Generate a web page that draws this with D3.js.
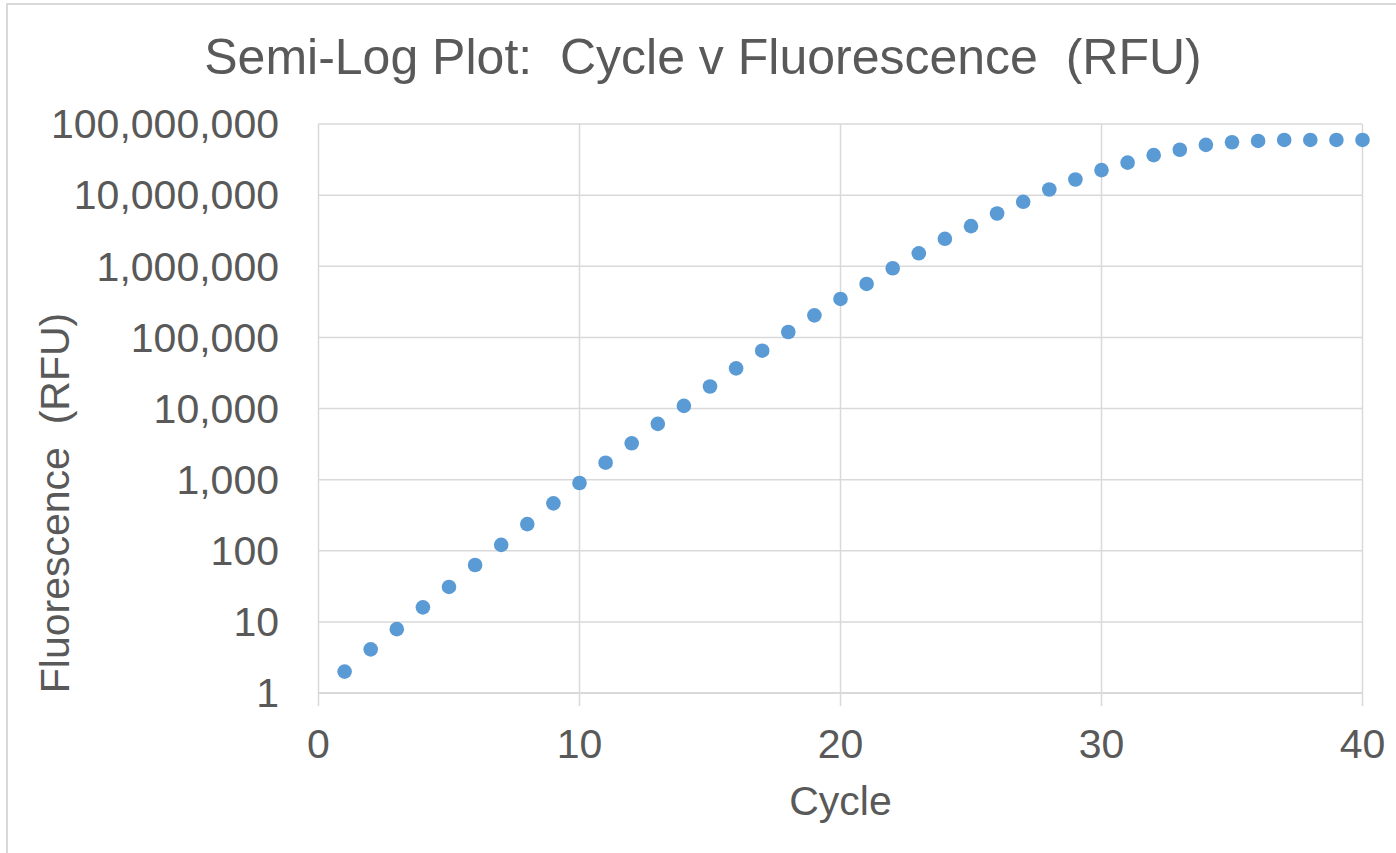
<!DOCTYPE html>
<html>
<head>
<meta charset="utf-8">
<script src="https://cdn.jsdelivr.net/npm/d3@7"></script>
<style>
  html, body { margin: 0; padding: 0; background: #fff; }
  svg { display: block; }
  text { font-family: "Liberation Sans", Arial, sans-serif; fill: #595959; white-space: pre; }
</style>
</head>
<body>
<svg id="chart" width="1396" height="853"></svg>
<script>
const chartTitle = "Semi-Log Plot:  Cycle v Fluorescence  (RFU)";
const xTitle = "Cycle";
const yTitle = "Fluorescence  (RFU)";

const cycles = [1,2,3,4,5,6,7,8,9,10,11,12,13,14,15,16,17,18,19,20,
                21,22,23,24,25,26,27,28,29,30,31,32,33,34,35,36,37,38,39,40];
const fluorescence = [2.0, 4.1, 7.9, 16, 31, 63, 121, 237, 464, 896,
                      1730, 3240, 6080, 10900, 20400, 36600, 65000, 119000, 204000, 347000,
                      564000, 937000, 1520000, 2430000, 3660000, 5520000, 8060000, 12000000, 16600000, 22500000,
                      28600000, 36500000, 43400000, 50900000, 55400000, 57800000, 59700000, 59700000, 59700000, 59700000];

const xTicks = [0, 10, 20, 30, 40];
const yTicks = [1, 10, 100, 1000, 10000, 100000, 1000000, 10000000, 100000000];

(function () {
  const svg = d3.select("#chart");

  // outer chart border
  svg.append("rect")
    .attr("x", 7).attr("y", 4)
    .attr("width", 1420).attr("height", 900)
    .attr("fill", "none").attr("stroke", "#d9d9d9").attr("stroke-width", 2);

  const pLeft = 318.5, pRight = 1362.5, pTop = 124, pBottom = 693;
  const x = d3.scaleLinear().domain([0, 40]).range([pLeft, pRight]);
  const y = d3.scaleLog().domain([1, 1e8]).range([pBottom, pTop]);

  const grid = "#d9d9d9";
  const fmt = d3.format(",");

  // horizontal gridlines
  svg.append("g").selectAll("line").data(yTicks).join("line")
    .attr("x1", pLeft).attr("x2", pRight)
    .attr("y1", d => y(d)).attr("y2", d => y(d))
    .attr("stroke", grid).attr("stroke-width", 1.5);

  // vertical gridlines + tick marks
  svg.append("g").selectAll("line").data(xTicks).join("line")
    .attr("x1", d => x(d)).attr("x2", d => x(d))
    .attr("y1", pTop).attr("y2", pBottom + 13)
    .attr("stroke", grid).attr("stroke-width", 1.5);

  // bottom axis line
  svg.append("line")
    .attr("x1", pLeft).attr("x2", pRight)
    .attr("y1", pBottom).attr("y2", pBottom)
    .attr("stroke", grid).attr("stroke-width", 2);

  // y tick labels
  svg.append("g").selectAll("text").data(yTicks).join("text")
    .attr("x", 279).attr("y", d => y(d)).attr("dy", "0.35em")
    .attr("text-anchor", "end").attr("font-size", 41)
    .text(d => fmt(d));

  // x tick labels
  svg.append("g").selectAll("text").data(xTicks).join("text")
    .attr("x", d => x(d)).attr("y", 758)
    .attr("text-anchor", "middle").attr("font-size", 41)
    .text(d => d);

  // points
  svg.append("g").selectAll("circle").data(cycles.map((c, i) => [c, fluorescence[i]])).join("circle")
    .attr("cx", d => x(d[0])).attr("cy", d => y(d[1]))
    .attr("r", 7.3)
    .attr("fill", "#5b9bd5");

  // title
  svg.append("text")
    .attr("x", 703).attr("y", 73.5)
    .attr("text-anchor", "middle").attr("font-size", 50)
    .text(chartTitle);

  // x axis title
  svg.append("text")
    .attr("x", (pLeft + pRight) / 2).attr("y", 815)
    .attr("text-anchor", "middle").attr("font-size", 41)
    .text(xTitle);

  // y axis title
  svg.append("text")
    .attr("transform", "translate(69,503) rotate(-90)")
    .attr("text-anchor", "middle").attr("font-size", 41)
    .text(yTitle);
})();
</script>
</body>
</html>
